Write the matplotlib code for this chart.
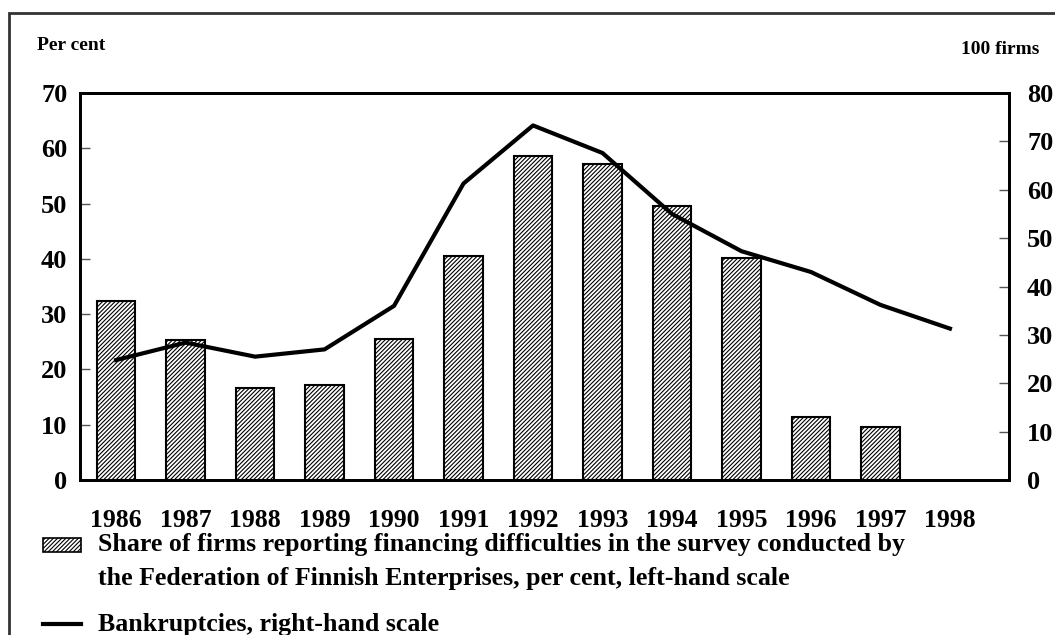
import matplotlib
matplotlib.use("Agg")
from matplotlib import pyplot as plt
from matplotlib.patches import Rectangle
from matplotlib.lines import Line2D

plt.rcParams['font.family'] = ['Liberation Serif', 'DejaVu Serif']
plt.rcParams['font.weight'] = 'bold'
plt.rcParams['hatch.linewidth'] = 0.8
plt.rcParams['hatch.color'] = '#555555'

# data
years = ['1986', '1987', '1988', '1989', '1990', '1991', '1992',
         '1993', '1994', '1995', '1996', '1997', '1998']
difficulties = [32.4, 25.3, 16.6, 17.2, 25.5, 40.5, 58.6, 57.1, 49.5, 40.1, 11.4, 9.5]  # per cent, left
bankruptcies = [24.8, 28.4, 25.5, 27.0, 36.0, 61.3, 73.3, 67.6, 55.0, 47.3, 43.0, 36.2, 31.3]  # 100 firms, right

left_ticks = [0, 10, 20, 30, 40, 50, 60, 70]
right_ticks = [0, 10, 20, 30, 40, 50, 60, 70, 80]

fig = plt.figure(figsize=(10.55, 6.35), dpi=100)
ax = fig.add_axes([0.0758, 0.2441, 0.8806, 0.6094])
ax2 = ax.twinx()

x = list(range(len(years)))
ax.bar(x[:len(difficulties)], difficulties, width=0.55, color='white',
       edgecolor='black', linewidth=1.5, hatch='////////', zorder=2)
ax2.plot(x, bankruptcies, color='black', linewidth=3, zorder=3)

ax.set_xlim(-0.52, 12.85)
ax.set_ylim(0, 70)
ax2.set_ylim(0, 80)
ax.set_yticks(left_ticks)
ax2.set_yticks(right_ticks)
ax.set_xticks(x)
ax.set_xticklabels(years)

ax.tick_params(axis='x', length=0, pad=21, labelsize=18.5)
ax.tick_params(axis='y', direction='in', length=7, width=1, color='#555555',
               pad=9, labelsize=19)
ax2.tick_params(axis='y', direction='in', length=7, width=1, color='#555555',
                pad=13, labelsize=19)
for a in (ax, ax2):
    for s in a.spines.values():
        s.set_linewidth(2)
        s.set_color('black')

fig.text(37 / 1055, 1 - 45 / 635, 'Per cent', fontsize=14, va='center', ha='left')
fig.text(1039 / 1055, 1 - 49 / 635, '100 firms', fontsize=14, va='center', ha='right')

# outer frame
fig.add_artist(Rectangle((9 / 1055, -0.1), 1.2, 1 - 13 / 635 + 0.1,
                         transform=fig.transFigure, fill=False,
                         edgecolor='#333333', linewidth=2))

# legend drawn by hand
fig.add_artist(Rectangle((43 / 1055, 1 - 552 / 635), 38 / 1055, 14 / 635,
                         transform=fig.transFigure, facecolor='white',
                         edgecolor='black', linewidth=1.2, hatch='////////'))
fig.text(98 / 1055, 1 - 545 / 635,
         'Share of firms reporting financing difficulties in the survey conducted by',
         fontsize=18.6, va='center', ha='left')
fig.text(98 / 1055, 1 - 578 / 635,
         'the Federation of Finnish Enterprises, per cent, left-hand scale',
         fontsize=18.6, va='center', ha='left')
fig.add_artist(Line2D([43 / 1055, 81 / 1055], [1 - 624 / 635, 1 - 624 / 635],
                      transform=fig.transFigure, color='black', linewidth=3))
fig.text(98 / 1055, 1 - 625 / 635, 'Bankruptcies, right-hand scale',
         fontsize=18.6, va='center', ha='left')

fig.savefig('out.png', dpi=100)
